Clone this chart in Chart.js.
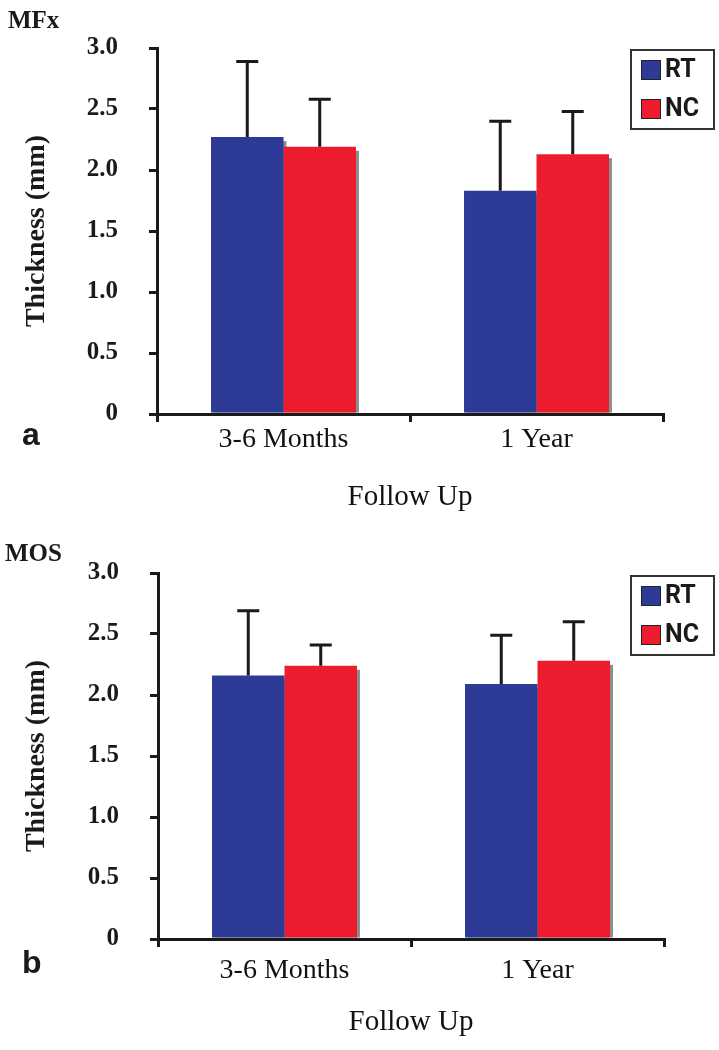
<!DOCTYPE html>
<html>
<head>
<meta charset="utf-8">
<script src="https://cdn.jsdelivr.net/npm/chart.js@4.4.0/dist/chart.umd.min.js"></script>
<style>
html, body { margin: 0; padding: 0; background: #fff; }
.panel { position: relative; width: 719px; height: 525px; }
</style>
</head>
<body>
<div class="panel"><canvas id="chart-a" width="719" height="525"></canvas></div>
<div class="panel"><canvas id="chart-b" width="719" height="525"></canvas></div>
<script>
// categories / series
var categories = ['3-6 Months', '1 Year'];
var seriesNames = ['RT', 'NC'];
var seriesColors = ['#2e3b96', '#ec1c2e'];
var yTicks = [0, 0.5, 1.0, 1.5, 2.0, 2.5, 3.0];

// panel a - MFx (mean, upper SD)
var mfxRT = [2.27, 1.83];
var mfxRTErr = [0.62, 0.57];
var mfxNC = [2.19, 2.13];
var mfxNCErr = [0.39, 0.35];

// panel b - MOS
var mosRT = [2.16, 2.09];
var mosRTErr = [0.53, 0.40];
var mosNC = [2.24, 2.28];
var mosNCErr = [0.17, 0.32];

var INK = '#1a1a1a';
var SERIF = '"Liberation Serif", "Times New Roman", serif';

// gray drop shadow behind each bar
var shadowPlugin = {
    id: 'barShadow',
    beforeDatasetsDraw: function(chart) {
        var ctx = chart.ctx;
        ctx.save();
        ctx.fillStyle = '#8e8e8e';
        chart.data.datasets.forEach(function(ds, i) {
            chart.getDatasetMeta(i).data.forEach(function(bar) {
                var p = bar.getProps(['x', 'y', 'base', 'width'], true);
                ctx.fillRect(p.x - p.width / 2 + 3, p.y + 4, p.width, p.base - p.y - 4);
            });
        });
        ctx.restore();
    }
};

// upper error bars with caps
var errorPlugin = {
    id: 'errorBars',
    afterDatasetsDraw: function(chart) {
        var ctx = chart.ctx;
        var yScale = chart.scales.y;
        ctx.save();
        ctx.strokeStyle = INK;
        ctx.lineWidth = 3;
        chart.data.datasets.forEach(function(ds, i) {
            chart.getDatasetMeta(i).data.forEach(function(bar, j) {
                var p = bar.getProps(['x', 'y'], true);
                var top = yScale.getPixelForValue(ds.data[j] + ds.errors[j]);
                ctx.beginPath();
                ctx.moveTo(p.x, p.y);
                ctx.lineTo(p.x, top);
                ctx.moveTo(p.x - 11, top);
                ctx.lineTo(p.x + 11, top);
                ctx.stroke();
            });
        });
        ctx.restore();
    }
};

// boxed legend in the top right corner
var legendPlugin = {
    id: 'boxLegend',
    afterDraw: function(chart) {
        var o = chart.options.plugins.boxLegend;
        var ctx = chart.ctx;
        ctx.save();
        ctx.strokeStyle = '#333';
        ctx.lineWidth = 2;
        ctx.strokeRect(o.x, o.y, 83, 79);
        ctx.font = 'bold 25px Roboto, sans-serif';
        ctx.textBaseline = 'middle';
        chart.data.datasets.forEach(function(ds, i) {
            var cy = o.y + 20 + i * 39;
            ctx.fillStyle = ds.backgroundColor;
            ctx.fillRect(o.x + 10, cy - 10, 20, 20);
            ctx.lineWidth = 1;
            ctx.strokeStyle = '#222';
            ctx.strokeRect(o.x + 10.5, cy - 9.5, 19, 19);
            ctx.fillStyle = INK;
            ctx.fillText(ds.label, o.x + 34, cy + 1);
        });
        ctx.restore();
    }
};

// corner label (MFx / MOS) and panel letter
var panelTextPlugin = {
    id: 'panelText',
    afterDraw: function(chart) {
        var o = chart.options.plugins.panelText;
        var ctx = chart.ctx;
        ctx.save();
        ctx.fillStyle = INK;
        ctx.textBaseline = 'alphabetic';
        ctx.font = 'bold 25px ' + SERIF;
        ctx.fillText(o.label, o.labelX, o.labelY);
        ctx.font = 'bold 32px "Liberation Sans", Arial, sans-serif';
        ctx.fillText(o.letter, 22, o.letterY);
        ctx.restore();
    }
};

function makeChart(canvasId, rt, rtErr, nc, ncErr, p) {
    return new Chart(document.getElementById(canvasId).getContext('2d'), {
        type: 'bar',
        data: {
            labels: categories,
            datasets: [
                { label: seriesNames[0], data: rt, errors: rtErr, backgroundColor: seriesColors[0], borderWidth: 0, barPercentage: 1, categoryPercentage: 0.573 },
                { label: seriesNames[1], data: nc, errors: ncErr, backgroundColor: seriesColors[1], borderWidth: 0, barPercentage: 1, categoryPercentage: 0.573 }
            ]
        },
        options: {
            responsive: false,
            animation: false,
            layout: { padding: { left: 20, right: p.right, top: 48, bottom: 10 } },
            plugins: {
                legend: { display: false },
                tooltip: { enabled: false },
                boxLegend: { x: 631, y: p.legendY },
                panelText: { label: p.label, labelX: p.labelX, labelY: p.labelY, letter: p.letter, letterY: p.letterY }
            },
            scales: {
                x: {
                    offset: true,
                    grid: { offset: true, drawOnChartArea: false, tickLength: 8, color: INK, lineWidth: 3 },
                    border: { color: INK, width: 3, z: 1 },
                    ticks: { padding: p.xPad, color: '#111', font: { family: SERIF, size: 28 } },
                    title: { display: true, text: 'Follow Up', color: '#111', padding: 0, font: { family: SERIF, size: 29 } },
                    afterFit: function(scale) { scale.height = 101; }
                },
                y: {
                    min: 0,
                    max: 3,
                    afterBuildTicks: function(scale) {
                        scale.ticks = yTicks.map(function(v) { return { value: v }; });
                    },
                    grid: { drawOnChartArea: false, tickLength: 8, color: INK, lineWidth: 3 },
                    border: { color: INK, width: 3, z: 1 },
                    ticks: {
                        padding: 31,
                        color: INK,
                        font: { family: SERIF, weight: 'bold', size: 25 },
                        callback: function(v) { return v === 0 ? '0' : v.toFixed(1); }
                    },
                    title: { display: true, text: 'Thickness (mm)', color: INK, padding: 0, font: { family: SERIF, weight: 'bold', size: 28 } },
                    afterFit: function(scale) { scale.width = p.yWidth; }
                }
            }
        },
        plugins: [shadowPlugin, errorPlugin, legendPlugin, panelTextPlugin]
    });
}

makeChart('chart-a', mfxRT, mfxRTErr, mfxNC, mfxNCErr,
    { right: 56, yWidth: 137, xPad: 1, legendY: 50, label: 'MFx', labelX: 8, labelY: 28, letter: 'a', letterY: 445 });
makeChart('chart-b', mosRT, mosRTErr, mosNC, mosNCErr,
    { right: 55, yWidth: 138, xPad: 7, legendY: 51, label: 'MOS', labelX: 5, labelY: 36, letter: 'b', letterY: 448 });
</script>
</body>
</html>
